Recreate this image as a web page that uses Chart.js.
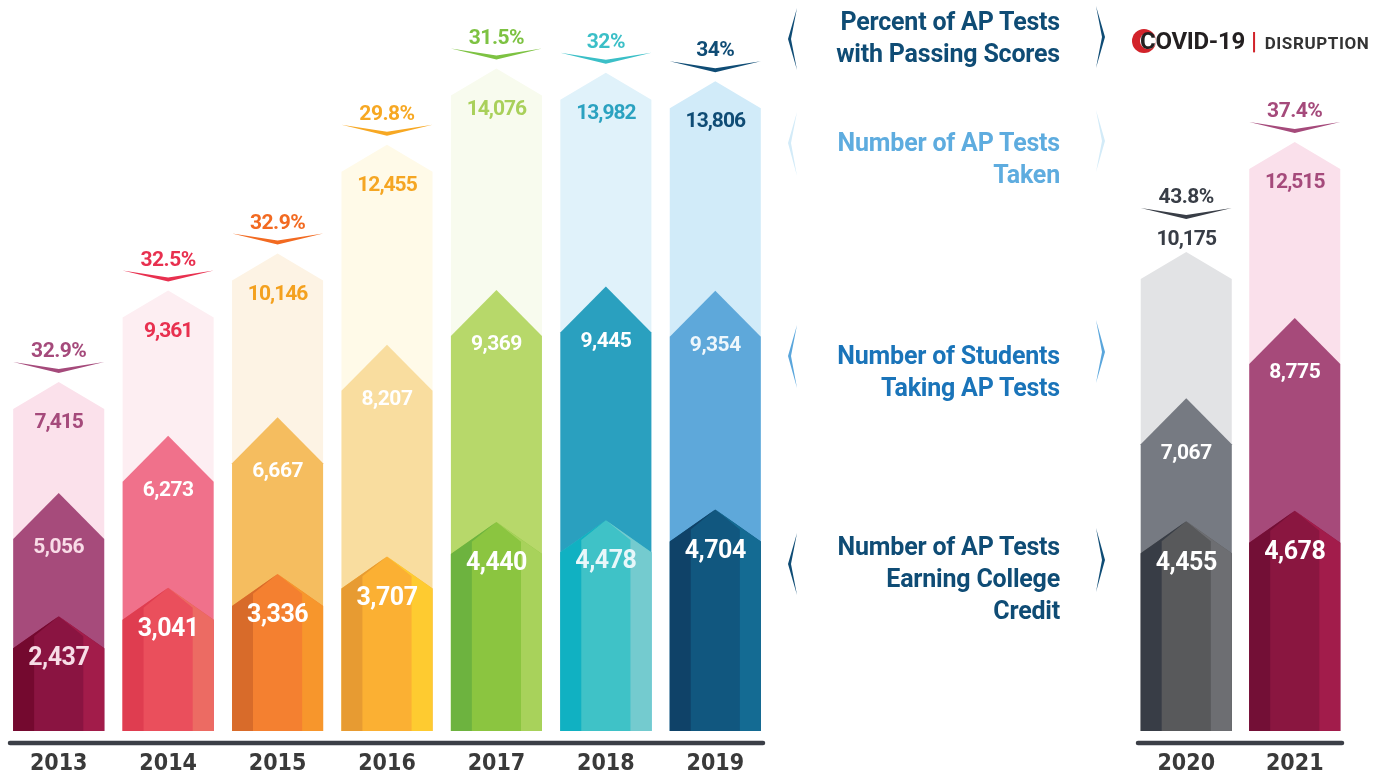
<!DOCTYPE html>
<html>
<head>
<meta charset="utf-8">
<script src="https://cdn.jsdelivr.net/npm/chart.js@4"></script>
<style>
  body { margin: 0; background: #fff; width: 1391px; height: 775px; overflow: hidden; position: relative; font-family: Roboto, sans-serif; }
  canvas { position: absolute; top: 0; }
  #leftChart { left: 0; }
  #rightChart { left: 1120px; }
  .key { position: absolute; left: 740px; width: 320px; text-align: right; font: 700 25px/32px Roboto, sans-serif; letter-spacing: -0.2px; }
  svg.brk { position: absolute; left: 0; top: 0; }
  .covid { position: absolute; left: 1140px; top: 26px; font: 700 24px/30px Roboto, sans-serif; color: #231f20; letter-spacing: -0.3px; white-space: nowrap; }
  .covid .bar { color: #d2232a; margin: 0 8px 0 6px; font-weight: 700; }
  .covid .dis { font-size: 17px; letter-spacing: 0.6px; color: #333; }
</style>
</head>
<body>
<canvas id="leftChart" width="775" height="775"></canvas>
<canvas id="rightChart" width="271" height="775"></canvas>

<svg class="brk" width="1391" height="775">
  <!-- covid logo -->
  <circle cx="1144" cy="41" r="12" fill="#d2232a"/>
  <circle cx="1148" cy="41" r="8" fill="#fff"/>
  <!-- brackets round the key -->
  <g fill="#0f4c75">
    <polygon points="797,8 788,39 797,70 791,39"/>
    <polygon points="1096,6 1105,37 1096,68 1102,37"/>
  </g>
  <g fill="#d3ebf8">
    <polygon points="797,112 788,143 797,176 791,143"/>
    <polygon points="1096,110 1105,141 1096,172 1102,141"/>
  </g>
  <g fill="#5aa6dc">
    <polygon points="797,325 788,356 797,388 791,356"/>
    <polygon points="1096,320 1105,352 1096,383 1102,352"/>
  </g>
  <g fill="#0f4c75">
    <polygon points="797,533 788,564 797,595 791,564"/>
    <polygon points="1096,528 1105,560 1096,592 1102,560"/>
  </g>
</svg>

<div class="key" style="top:6px;color:#0f4c75">Percent of AP Tests<br>with Passing Scores</div>
<div class="key" style="top:127px;color:#5eacdf">Number of AP Tests<br>Taken</div>
<div class="key" style="top:340px;color:#1a74b9">Number of Students<br>Taking AP Tests</div>
<div class="key" style="top:531px;color:#0f4c75">Number of AP Tests<br>Earning College<br>Credit</div>

<div class="covid">COVID-19<span class="bar">|</span><span class="dis">DISRUPTION</span></div>

<script>
// AP results by year, 2020 and 2021 shown apart (COVID-19)
const years = ['2013', '2014', '2015', '2016', '2017', '2018', '2019', '2020', '2021'];
const passRate = [32.9, 32.5, 32.9, 29.8, 31.5, 32, 34, 43.8, 37.4];
const testsTaken = [7415, 9361, 10146, 12455, 14076, 13982, 13806, 10175, 12515];
const students = [5056, 6273, 6667, 8207, 9369, 9445, 9354, 7067, 8775];
const creditTests = [2437, 3041, 3336, 3707, 4440, 4478, 4704, 4455, 4678];

// years whose "tests taken" number sits above the arrow
const labelAbove = ['2020'];

// colours per year
const palette = [
    { pct: '#a54a7b', top: '#fbe1eb', topText: '#a54a7b', mid: '#a64b7b', midText: '#f9dce7', low: ['#74092f', '#8a1441', '#a21c4a'], lowText: '#f7dde6' },
    { pct: '#e8304f', top: '#fdeef2', topText: '#e8304f', mid: '#f0718b', midText: '#ffffff', low: ['#df3d50', '#ea4f5c', '#ec6b63'], lowText: '#ffffff' },
    { pct: '#f26a21', top: '#fdf3e4', topText: '#f4a11f', mid: '#f5bd5f', midText: '#ffffff', low: ['#d86b2a', '#f48030', '#f7962c'], lowText: '#ffffff' },
    { pct: '#f7a823', top: '#fffae8', topText: '#f5a623', mid: '#f9dd9f', midText: '#ffffff', low: ['#e79b32', '#fbb033', '#fecb30'], lowText: '#ffffff' },
    { pct: '#7dc242', top: '#f8fbee', topText: '#a9d05a', mid: '#b7d86a', midText: '#ffffff', low: ['#6db33f', '#8bc540', '#a8d25b'], lowText: '#ffffff' },
    { pct: '#3bbfc7', top: '#e0f2fa', topText: '#2ba2c0', mid: '#2aa0bf', midText: '#ffffff', low: ['#10b1c2', '#3fc2c7', '#74cbcf'], lowText: '#e8f7fa' },
    { pct: '#0f4c75', top: '#d1ebf9', topText: '#0f4c75', mid: '#5ea8da', midText: '#eef7fc', low: ['#0f4268', '#11577f', '#146b93'], lowText: '#ffffff' },
    { pct: '#383d46', top: '#e2e3e5', topText: '#383d46', mid: '#767a82', midText: '#ffffff', low: ['#383d46', '#58595b', '#6d6e72'], lowText: '#ffffff' },
    { pct: '#a54a7b', top: '#fae0eb', topText: '#a54a7b', mid: '#a64a7a', midText: '#ffffff', low: ['#730f36', '#8a1640', '#a21c4b'], lowText: '#ffffff' }
];

const yMax = 15530;
const peak = [27, 46, 32]; // arrow head height: taken, students, credit

function arrowPath(ctx, x, y, base, w, pk) {
    ctx.beginPath();
    ctx.moveTo(x - w / 2, base);
    ctx.lineTo(x - w / 2, y + pk);
    ctx.lineTo(x, y);
    ctx.lineTo(x + w / 2, y + pk);
    ctx.lineTo(x + w / 2, base);
    ctx.closePath();
}

function drawText(ctx, text, x, y, font, color, spacing) {
    ctx.font = font;
    ctx.fillStyle = color;
    ctx.letterSpacing = spacing + 'px';
    ctx.textAlign = 'center';
    ctx.textBaseline = 'middle';
    ctx.fillText(text, x, y);
}

const arrows = {
    id: 'arrows',
    beforeDatasetDraw() {
        return false; // default rectangles replaced below
    },
    afterDatasetsDraw(chart, args, opts) {
        const ctx = chart.ctx;
        const n = chart.data.labels.length;
        ctx.save();
        for (let i = 0; i < n; i++) {
            const c = palette[opts.first + i];
            const yr = chart.data.labels[i];
            const els = [0, 1, 2].map(d => chart.getDatasetMeta(d).data[i].getProps(['x', 'y', 'base', 'width'], true));

            // tests taken (light) and students (middle)
            arrowPath(ctx, els[0].x, els[0].y, els[0].base, els[0].width, peak[0]);
            ctx.fillStyle = c.top;
            ctx.fill();
            arrowPath(ctx, els[1].x, els[1].y, els[1].base, els[1].width, peak[1]);
            ctx.fillStyle = c.mid;
            ctx.fill();

            // credit: three faceted columns
            const e = els[2];
            const L = e.x - e.width / 2, R = e.x + e.width / 2;
            const s1 = L + e.width * 0.23, s2 = R - e.width * 0.23;
            const ys = e.y + peak[2] * 0.62;
            arrowPath(ctx, e.x, e.y, e.base, e.width, peak[2]);
            ctx.fillStyle = c.low[1];
            ctx.fill();
            ctx.beginPath();
            ctx.moveTo(L, e.base); ctx.lineTo(L, e.y + peak[2]); ctx.lineTo(e.x, e.y);
            ctx.lineTo(s1, ys); ctx.lineTo(s1, e.base); ctx.closePath();
            ctx.fillStyle = c.low[0];
            ctx.fill();
            ctx.beginPath();
            ctx.moveTo(R, e.base); ctx.lineTo(R, e.y + peak[2]); ctx.lineTo(e.x, e.y);
            ctx.lineTo(s2, ys); ctx.lineTo(s2, e.base); ctx.closePath();
            ctx.fillStyle = c.low[2];
            ctx.fill();

            // numbers
            const above = labelAbove.includes(yr);
            const t = els[0];
            drawText(ctx, testsTaken[opts.first + i].toLocaleString('en-US'), t.x, above ? t.y - 12 : t.y + 41,
                '700 21px Roboto', c.topText, -1);
            drawText(ctx, students[opts.first + i].toLocaleString('en-US'), els[1].x, els[1].y + 55,
                '700 21px Roboto', c.midText, -0.5);
            drawText(ctx, creditTests[opts.first + i].toLocaleString('en-US'), e.x, e.y + 42,
                '700 25px Roboto', c.lowText, -0.5);

            // pass rate with chevron
            const ends = t.y - (above ? 44 : 20);
            const tl = t.x - t.width / 2, tr = t.x + t.width / 2;
            ctx.beginPath();
            ctx.moveTo(tl, ends); ctx.lineTo(t.x, ends + 7); ctx.lineTo(tr, ends);
            ctx.lineTo(t.x, ends + 11); ctx.closePath();
            ctx.fillStyle = c.pct;
            ctx.fill();
            drawText(ctx, passRate[opts.first + i] + '%', t.x, ends - 10, '700 21px Roboto', c.pct, -0.5);
        }

        // base line
        const a = chart.chartArea;
        ctx.beginPath();
        ctx.moveTo(a.left + 6, a.bottom + 12);
        ctx.lineTo(a.right - 7, a.bottom + 12);
        ctx.lineWidth = 4.5;
        ctx.lineCap = 'round';
        ctx.strokeStyle = '#3b3f47';
        ctx.stroke();
        ctx.restore();
    }
};

function makeConfig(from, to, pad, barPct) {
    return {
        type: 'bar',
        data: {
            labels: years.slice(from, to),
            datasets: [
                { label: 'Number of AP Tests Taken', data: testsTaken.slice(from, to) },
                { label: 'Number of Students Taking AP Tests', data: students.slice(from, to) },
                { label: 'Number of AP Tests Earning College Credit', data: creditTests.slice(from, to) }
            ]
        },
        options: {
            responsive: false,
            animation: false,
            events: [],
            layout: { padding: { left: pad[0], right: pad[1], top: 0, bottom: 0 } },
            datasets: { bar: { grouped: false, barPercentage: barPct, categoryPercentage: 1 } },
            plugins: {
                legend: { display: false },
                tooltip: { enabled: false },
                arrows: { first: from }
            },
            scales: {
                x: {
                    grid: { display: false, drawTicks: false },
                    border: { display: false },
                    ticks: {
                        padding: 19,
                        color: '#3a3a3a',
                        font: { family: "'Liberation Sans Narrow', 'DejaVu Sans Condensed', Roboto, sans-serif", size: 23, weight: 'bold' }
                    },
                    afterFit(scale) { scale.height = 44; }
                },
                y: { display: false, min: 0, max: yMax }
            }
        },
        plugins: [arrows]
    };
}

new Chart(document.getElementById('leftChart'), makeConfig(0, 7, [4, 5], 0.832));
new Chart(document.getElementById('rightChart'), makeConfig(7, 9, [12, 42], 0.839));
</script>
</body>
</html>
